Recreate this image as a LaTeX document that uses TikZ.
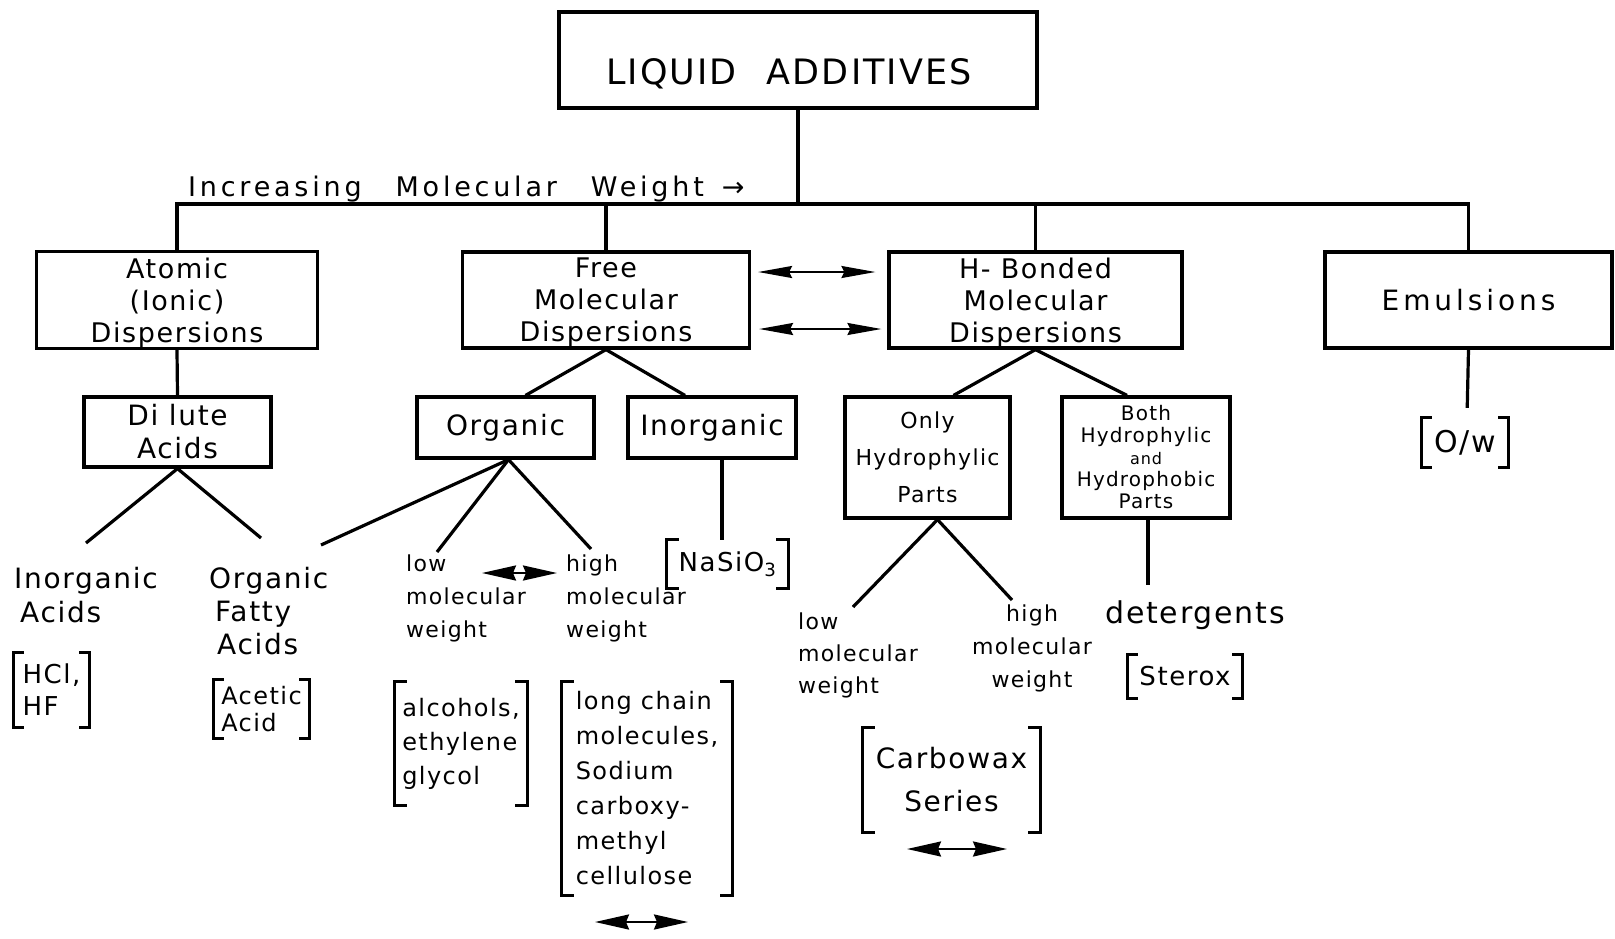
\documentclass[tikz,border=0pt]{standalone}
\usepackage{fontspec}
\setmainfont{DejaVu Sans}
\newfontfamily\hand[LetterSpace=6]{DejaVu Sans}
\newfontfamily\handwide[LetterSpace=14]{DejaVu Sans}
\usetikzlibrary{arrows.meta}
\newcommand\fsz[2]{\fontsize{#1}{#2}\selectfont}
\newcommand\brkts[2]{%
  \draw[brkline] ([xshift=#2]#1.north west) -- (#1.north west) -- (#1.south west) -- ([xshift=#2]#1.south west);
  \draw[brkline] ([xshift=-#2]#1.north east) -- (#1.north east) -- (#1.south east) -- ([xshift=-#2]#1.south east);}
\begin{document}
\begin{tikzpicture}[x=1pt,y=-1pt,
  box/.style={draw, line width=3.2pt, inner sep=0pt, align=center, font=\hand\fsz{27}{32}},
  lbl/.style={inner sep=0pt, align=left, font=\hand\fsz{22}{33}},
  brkt/.style={inner sep=0pt, align=left},
  brkline/.style={line width=3pt},
  con/.style={line width=3.2pt},
  dblarrow/.style={line width=2pt, {Stealth[length=34pt,width=12pt,inset=3pt]}-{Stealth[length=34pt,width=12pt,inset=3pt]}},
  dblarrowb/.style={line width=2.2pt, {Stealth[length=34pt,width=15pt,inset=3pt]}-{Stealth[length=34pt,width=15pt,inset=3pt]}}
]
\fill[white] (0,0) rectangle (1615,938);
\useasboundingbox (0,0) rectangle (1615,938);

% title
\node[box, minimum width=478pt, minimum height=96pt] (top) at (798,60) {};
\node[inner sep=0pt, font=\hand\fsz{35}{40}] (toptxt) at (789,74) {LIQUID\hspace{30pt}ADDITIVES};

% level 1
\node[box, minimum width=281pt, minimum height=97pt, text depth=0pt] (atomic) at (177,300) {Atomic\\(Ionic)\\Dispersions};
\node[box, minimum width=287pt, minimum height=96pt, text depth=0pt] (free) at (606,300) {Free\\Molecular\\Dispersions};
\node[box, minimum width=293pt, minimum height=96pt, text depth=0pt] (hb) at (1035.5,300) {H- Bonded\\Molecular\\Dispersions};
\node[box, minimum width=287pt, minimum height=96pt, font=\handwide\fsz{28}{33}] (emul) at (1468.5,300) {Emulsions};

\node[inner sep=0pt, anchor=base west, font=\handwide\fsz{27}{30}] (incr) at (188,196) {Increasing\hspace{34pt}Molecular\hspace{34pt}Weight\hspace{18pt}→};

% level 2
\node[box, minimum width=187pt, minimum height=70pt, font=\hand\fsz{28}{33}] (dilute) at (177.5,432) {Di lute\\Acids};
\node[box, minimum width=177pt, minimum height=61pt, font=\hand\fsz{28}{33}] (org) at (505.5,427.5) {Organic};
\node[box, minimum width=168pt, minimum height=61pt, font=\hand\fsz{28}{33}] (inorg) at (712,427.5) {Inorganic};
\node[box, minimum width=165pt, minimum height=121pt, font=\hand\fsz{22}{37}] (only) at (927.5,457.5) {Only\\Hydrophylic\\Parts};
\node[box, minimum width=168pt, minimum height=121pt, font=\hand\fsz{20}{22}] (both) at (1146,457.5) {Both\\Hydrophylic\\{\fsz{16}{18}and}\\Hydrophobic\\Parts};

% labels
\node[lbl, anchor=north west, font=\hand\fsz{28}{34}] (inacid) at (14,567) {Inorganic\\\hspace{6pt}Acids};
\node[lbl, anchor=north west, font=\hand\fsz{28}{33}] (orgacid) at (209,567) {Organic\\\hspace{6pt}Fatty\\\hspace{8pt}Acids};
\node[lbl, anchor=north west] (low1) at (406,555) {low\\molecular\\weight};
\node[lbl, anchor=north west] (high1) at (566,555) {high\\molecular\\weight};
\node[lbl, anchor=north west, font=\hand\fsz{22}{32}] (low2) at (798,613) {low\\molecular\\weight};
\node[lbl, anchor=north, align=center] (high2) at (1032,605) {high\\molecular\\weight};
\node[lbl, anchor=north west, font=\hand\fsz{30}{34}] (det) at (1105,600) {detergents};

% bracketed examples
\node[brkt, minimum width=75pt, minimum height=74pt, font=\hand\fsz{26}{32}] (hcl) at (51.5,690) {HCl,\\HF};
\node[brkt, minimum width=95pt, minimum height=58pt, font=\hand\fsz{24}{27}] (acetic) at (261.5,709) {Acetic\\Acid};
\node[brkt, minimum width=132pt, minimum height=123pt, font=\hand\fsz{24}{34}] (alc) at (461,743.5) {alcohols,\\ethylene\\glycol};
\node[brkt, minimum width=170pt, minimum height=213pt, font=\hand\fsz{24}{35}] (longc) at (647,788.5) {long chain\\molecules,\\Sodium\\carboxy-\\methyl\\cellulose};
\node[brkt, minimum width=121pt, minimum height=48pt, font=\hand\fsz{26}{30}] (nasio) at (727.5,564) {NaSiO\textsubscript{3}};
\node[brkt, minimum width=177pt, minimum height=104pt, align=center, font=\hand\fsz{28}{43}] (carbo) at (951.5,780) {Carbowax\\Series};
\node[brkt, minimum width=114pt, minimum height=43pt, font=\hand\fsz{26}{30}] (sterox) at (1185,676.5) {Sterox};
\node[brkt, minimum width=86pt, minimum height=49pt, font=\hand\fsz{30}{34}] (ow) at (1465,442.5) {O/w};

\brkts{hcl}{10pt}
\brkts{acetic}{10pt}
\brkts{alc}{12pt}
\brkts{longc}{12pt}
\brkts{nasio}{12pt}
\brkts{carbo}{12pt}
\brkts{sterox}{10pt}
\brkts{ow}{10pt}

% bus
\coordinate (busy) at (0,204);
\draw[con] (atomic.north) -- (atomic.north |- busy) -- (emul.north |- busy) -- (emul.north);
\draw[con] (top.south) -- (top.south |- busy);
\draw[con] (free.north) -- (free.north |- busy);
\draw[con] (hb.north) -- (hb.north |- busy);

% atomic branch
\draw[con] (atomic.south) -- (dilute.north);
\coordinate (ia) at (86,543);
\coordinate (oa) at (261,538);
\draw[con] (dilute.south) -- (ia);
\draw[con] (dilute.south) -- (oa);

% free branch
\draw[con] (free.south) -- ([xshift=20pt]org.north);
\draw[con] (free.south) -- ([xshift=-27pt]inorg.north);
\coordinate (o1) at (321,545);
\coordinate (o2) at (437,552);
\coordinate (o3) at (591,549);
\draw[con] ([xshift=3pt]org.south) -- (o1);
\draw[con] ([xshift=3pt]org.south) -- (o2);
\draw[con] ([xshift=3pt]org.south) -- (o3);
\draw[con] ([xshift=10pt]inorg.south) -- ([xshift=-5.5pt]nasio.north);

% h-bonded branch
\draw[con] (hb.south) -- ([xshift=26pt]only.north);
\draw[con] (hb.south) -- ([xshift=-19pt]both.north);
\coordinate (h1) at (853,607);
\coordinate (h2) at (1012,600);
\draw[con] ([xshift=10pt]only.south) -- (h1);
\draw[con] ([xshift=10pt]only.south) -- (h2);
\coordinate (dt) at (1148,585);
\draw[con] ([xshift=2pt]both.south) -- (dt);

% emulsions
\draw[con, shorten >=10pt] (emul.south) -- ([xshift=2pt]ow.north);

% double arrows
\draw[dblarrow, shorten <=7pt, shorten >=12pt] ([yshift=28pt]free.east) -- ([yshift=28pt]hb.west);
\draw[dblarrow, shorten <=8pt, shorten >=6pt] ([yshift=-29pt]free.east) -- ([yshift=-29pt]hb.west);
\coordinate (lh1) at (482,573);
\coordinate (lh2) at (557,573);
\draw[dblarrowb] (lh1) -- (lh2);
\coordinate (lc1) at (595,922);
\coordinate (lc2) at (688,922);
\draw[dblarrowb] (lc1) -- (lc2);
\coordinate (cw1) at (907,849);
\coordinate (cw2) at (1007,849);
\draw[dblarrowb] (cw1) -- (cw2);
\end{tikzpicture}
\end{document}
